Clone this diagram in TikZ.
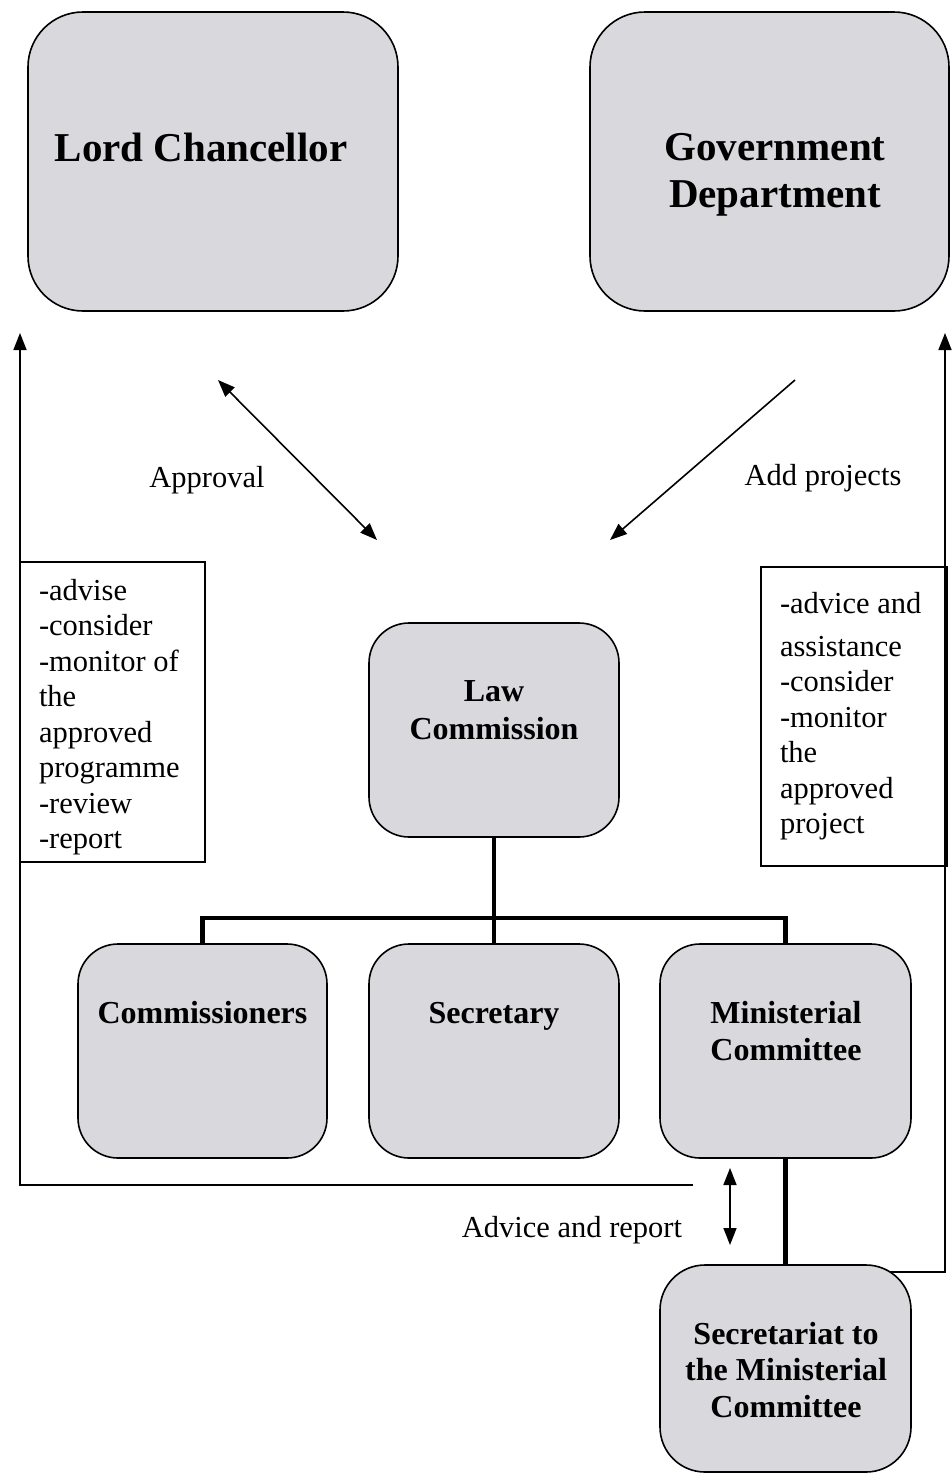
\documentclass[tikz,border=0pt]{standalone}
\usepackage{fontspec}
\setmainfont{Liberation Serif}
\usetikzlibrary{arrows.meta,positioning,calc,backgrounds}
\definecolor{boxgray}{RGB}{216,216,221}
\tikzset{
  orgbox/.style={draw, line width=1.6pt, fill=boxgray, rounded corners=#1, inner sep=0pt},
  orgbox/.default=40pt,
  toptitle/.style={font=\fontsize{41}{47}\selectfont\bfseries, align=center},
  subtitle/.style={font=\fontsize{32}{37.5}\selectfont\bfseries, align=center},
  notebox/.style={draw, line width=1.5pt, align=flush left, inner xsep=19pt, inner ysep=0pt,
    minimum height=300pt, font=\fontsize{30.5}{35.5}\selectfont},
  lbl/.style={font=\fontsize{30.5}{35.5}\selectfont},
  bus/.style={line width=4.2pt},
  thin/.style={line width=1.6pt},
}

\begin{document}
\begin{tikzpicture}[x=1pt, y=-1pt, >={Triangle[length=17pt,width=13pt]}]
    \useasboundingbox (0,0) rectangle (951,1475);

    % top boxes
    \node[orgbox=55pt, minimum width=370, minimum height=299] (lc) at (213,161.5) {};
    \node[orgbox=55pt, minimum width=359, minimum height=299] (gd) at (769.5,161.5) {};
    \node[toptitle] (lcT) at (201,147) {Lord Chancellor};
    \node[toptitle] (gdT) at (775,175) {Government\\Department};

    % law commission and the three below it
    \node[orgbox, minimum width=250, minimum height=214] (lawc) at (494,730) {};
    \node[subtitle] (lawcT) at (494,710) {Law\\Commission};

    \node[orgbox, minimum width=249, minimum height=214] (com) at (202.5,1051) {};
    \node[orgbox, minimum width=250, minimum height=214] (sec) at (494,1051) {};
    \node[orgbox, minimum width=251, minimum height=214] (min) at (785.5,1051) {};
    \node[subtitle] (comT) at (202.5,1013) {Commissioners};
    \node[subtitle] (secT) at (494,1016) {Secretary};
    \node[subtitle] (minT) at (786,1031) {Ministerial\\Committee};

    \node[orgbox=45pt, minimum width=251, minimum height=207] (secr) at (785.5,1368.5) {};
    \node[subtitle, font=\fontsize{32}{36.5}\selectfont\bfseries] (secrT) at (786,1370)
      {Secretariat to\\the Ministerial\\Committee};

    % note boxes
    \node[notebox, text width=147pt] (leftnote) at (112.5,712)
      {\rule{0pt}{31pt}-advise\\-consider\\-monitor of\\the\\approved\\programme\\-review\\-report};
    \node[notebox, text width=148pt, minimum height=299pt] (rightnote) at (854,716.5)
      {-advice and\\[7pt]assistance\\-consider\\-monitor\\the\\approved\\project};

    % free ends
    \coordinate (lcup) at (20,333);
    \coordinate (lcend) at (693,1185);
    \coordinate (gdup) at (945,333);
    \coordinate (apA) at (218,380);
    \coordinate (apB) at (377,540);
    \coordinate (addA) at (795,380);
    \coordinate (addB) at (610,540);
    \coordinate (advA) at (730,1168);
    \coordinate (advB) at (730,1245);
    \coordinate (busc) at (494,918);

    % organisation lines
    \draw[bus] (lawc.south) -- (sec.north);
    \draw[bus] (com.north) |- (busc) -| (min.north);
    \draw[bus] (min.south) -- (secr.north);

    % loops back to the top
    \draw[thin, ->] (lcend) -| (lcup);
    \begin{scope}[on background layer]
      \draw[thin, ->] ($(secr.north)+(0,8)$) -| (gdup);
    \end{scope}

    % arrows and labels
    \draw[thin, <->] (apA) -- (apB);
    \draw[thin, ->] (addA) -- (addB);
    \draw[thin, <->] (advA) -- (advB);
    \node[lbl] (apT) at (207,480) {Approval};
    \node[lbl] (addT) at (823,478) {Add projects};
    \node[lbl] (advT) at (572,1230) {Advice and report};
\end{tikzpicture}
\end{document}
